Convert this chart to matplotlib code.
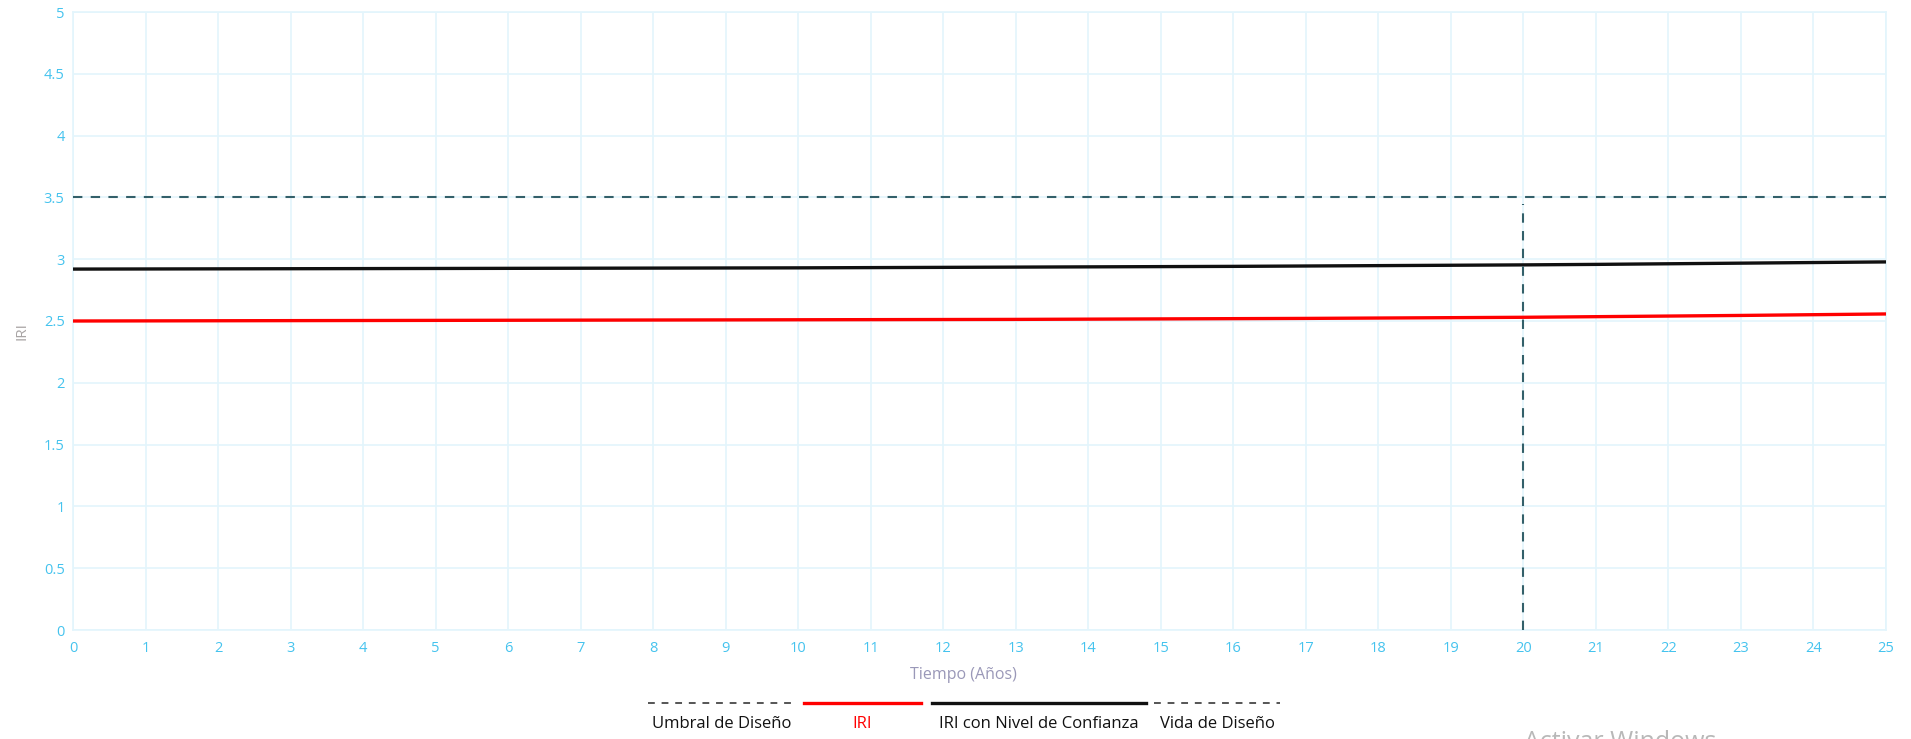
import matplotlib
matplotlib.use("Agg")
import matplotlib.pyplot as plt
from matplotlib.lines import Line2D

plt.rcParams['font.family'] = ['Open Sans', 'DejaVu Sans']

# --- data ---
years = list(range(0, 26))
iri = [2.500, 2.501, 2.502, 2.503, 2.504, 2.505, 2.506, 2.507, 2.508, 2.509,
       2.510, 2.511, 2.512, 2.513, 2.515, 2.517, 2.519, 2.521, 2.524, 2.527,
       2.530, 2.535, 2.540, 2.545, 2.551, 2.557]
iri_conf = [2.920, 2.921, 2.922, 2.923, 2.924, 2.925, 2.926, 2.927, 2.928, 2.929,
            2.930, 2.932, 2.934, 2.936, 2.938, 2.940, 2.942, 2.945, 2.948, 2.951,
            2.954, 2.958, 2.963, 2.968, 2.973, 2.978]
umbral = 3.5
vida = 20
x_ticks = list(range(0, 26))
y_ticks = [0, 0.5, 1, 1.5, 2, 2.5, 3, 3.5, 4, 4.5, 5]
y_tick_labels = ["0", "0.5", "1", "1.5", "2", "2.5", "3", "3.5", "4", "4.5", "5"]
legend_labels = ["Umbral de Diseño", "IRI", "IRI con Nivel de Confianza", "Vida de Diseño"]

W, H = 1911, 739
fig = plt.figure(figsize=(W / 100, H / 100), dpi=100)
left, right, top, bottom = 73, 1886, 12, 630
ax = fig.add_axes([left / W, 1 - bottom / H, (right - left) / W, (bottom - top) / H])

tick_color = "#45c3ee"
grid_color = "#e3f5fc"
dash_color = "#33606a"

ax.set_xlim(0, 25)
ax.set_ylim(0, 5)
ax.set_xticks(x_ticks)
ax.set_yticks(y_ticks)
ax.set_yticklabels(y_tick_labels)
ax.tick_params(length=0, colors=tick_color, labelsize=10.5)
ax.tick_params(axis='x', pad=8)
ax.tick_params(axis='y', pad=6)
ax.grid(True, color=grid_color, linewidth=1.2)
ax.set_axisbelow(True)
for s in ax.spines.values():
    s.set_color(grid_color)
    s.set_linewidth(1.2)

ax.plot(years, iri, color="#ff0000", linewidth=2.4, solid_capstyle='butt', zorder=3)
ax.plot(years, iri_conf, color="#111111", linewidth=2.4, solid_capstyle='butt', zorder=3)
ax.axhline(umbral, color=dash_color, linewidth=1.5, dashes=(4.5, 4), zorder=4)
ax.plot([vida, vida], [0, umbral - 0.05], color=dash_color, linewidth=1.5,
        dashes=(4.5, 4), zorder=4)

fig.text(963 / W, 1 - 675 / H, "Tiempo (Años)", ha='center', va='center',
         fontsize=11.5, color="#9a98b8")
fig.text(22 / W, 1 - 331 / H, "IRI", ha='center', va='center', rotation=90,
         fontsize=11, color="#a8a4a4")

# legend drawn below the axis: line sample above each label
legend_styles = [
    dict(color="#555555", linewidth=1.4, dashes=(3.5, 3.5)),
    dict(color="#ff0000", linewidth=2.4),
    dict(color="#111111", linewidth=2.4),
    dict(color="#555555", linewidth=1.4, dashes=(3.5, 3.5)),
]
legend_text_colors = ["#111111", "#ff0000", "#111111", "#111111"]
spans = [(648, 795), (804, 921), (932, 1146), (1154, 1280)]
y_line = 703
y_text = 724
for lab, st, tc, (x0, x1) in zip(legend_labels, legend_styles, legend_text_colors, spans):
    fig.add_artist(Line2D([x0 / W, x1 / W], [1 - y_line / H, 1 - y_line / H], **st))
    fig.text((x0 + x1) / 2 / W, 1 - y_text / H, lab, ha='center', va='center',
             fontsize=12, color=tc)

fig.text(1524 / W, 1 - 743 / H, "Activar Windows", ha='left', va='center',
         fontsize=18, color="#b8b8b8")

fig.savefig("out.png", dpi=100, facecolor="white")
